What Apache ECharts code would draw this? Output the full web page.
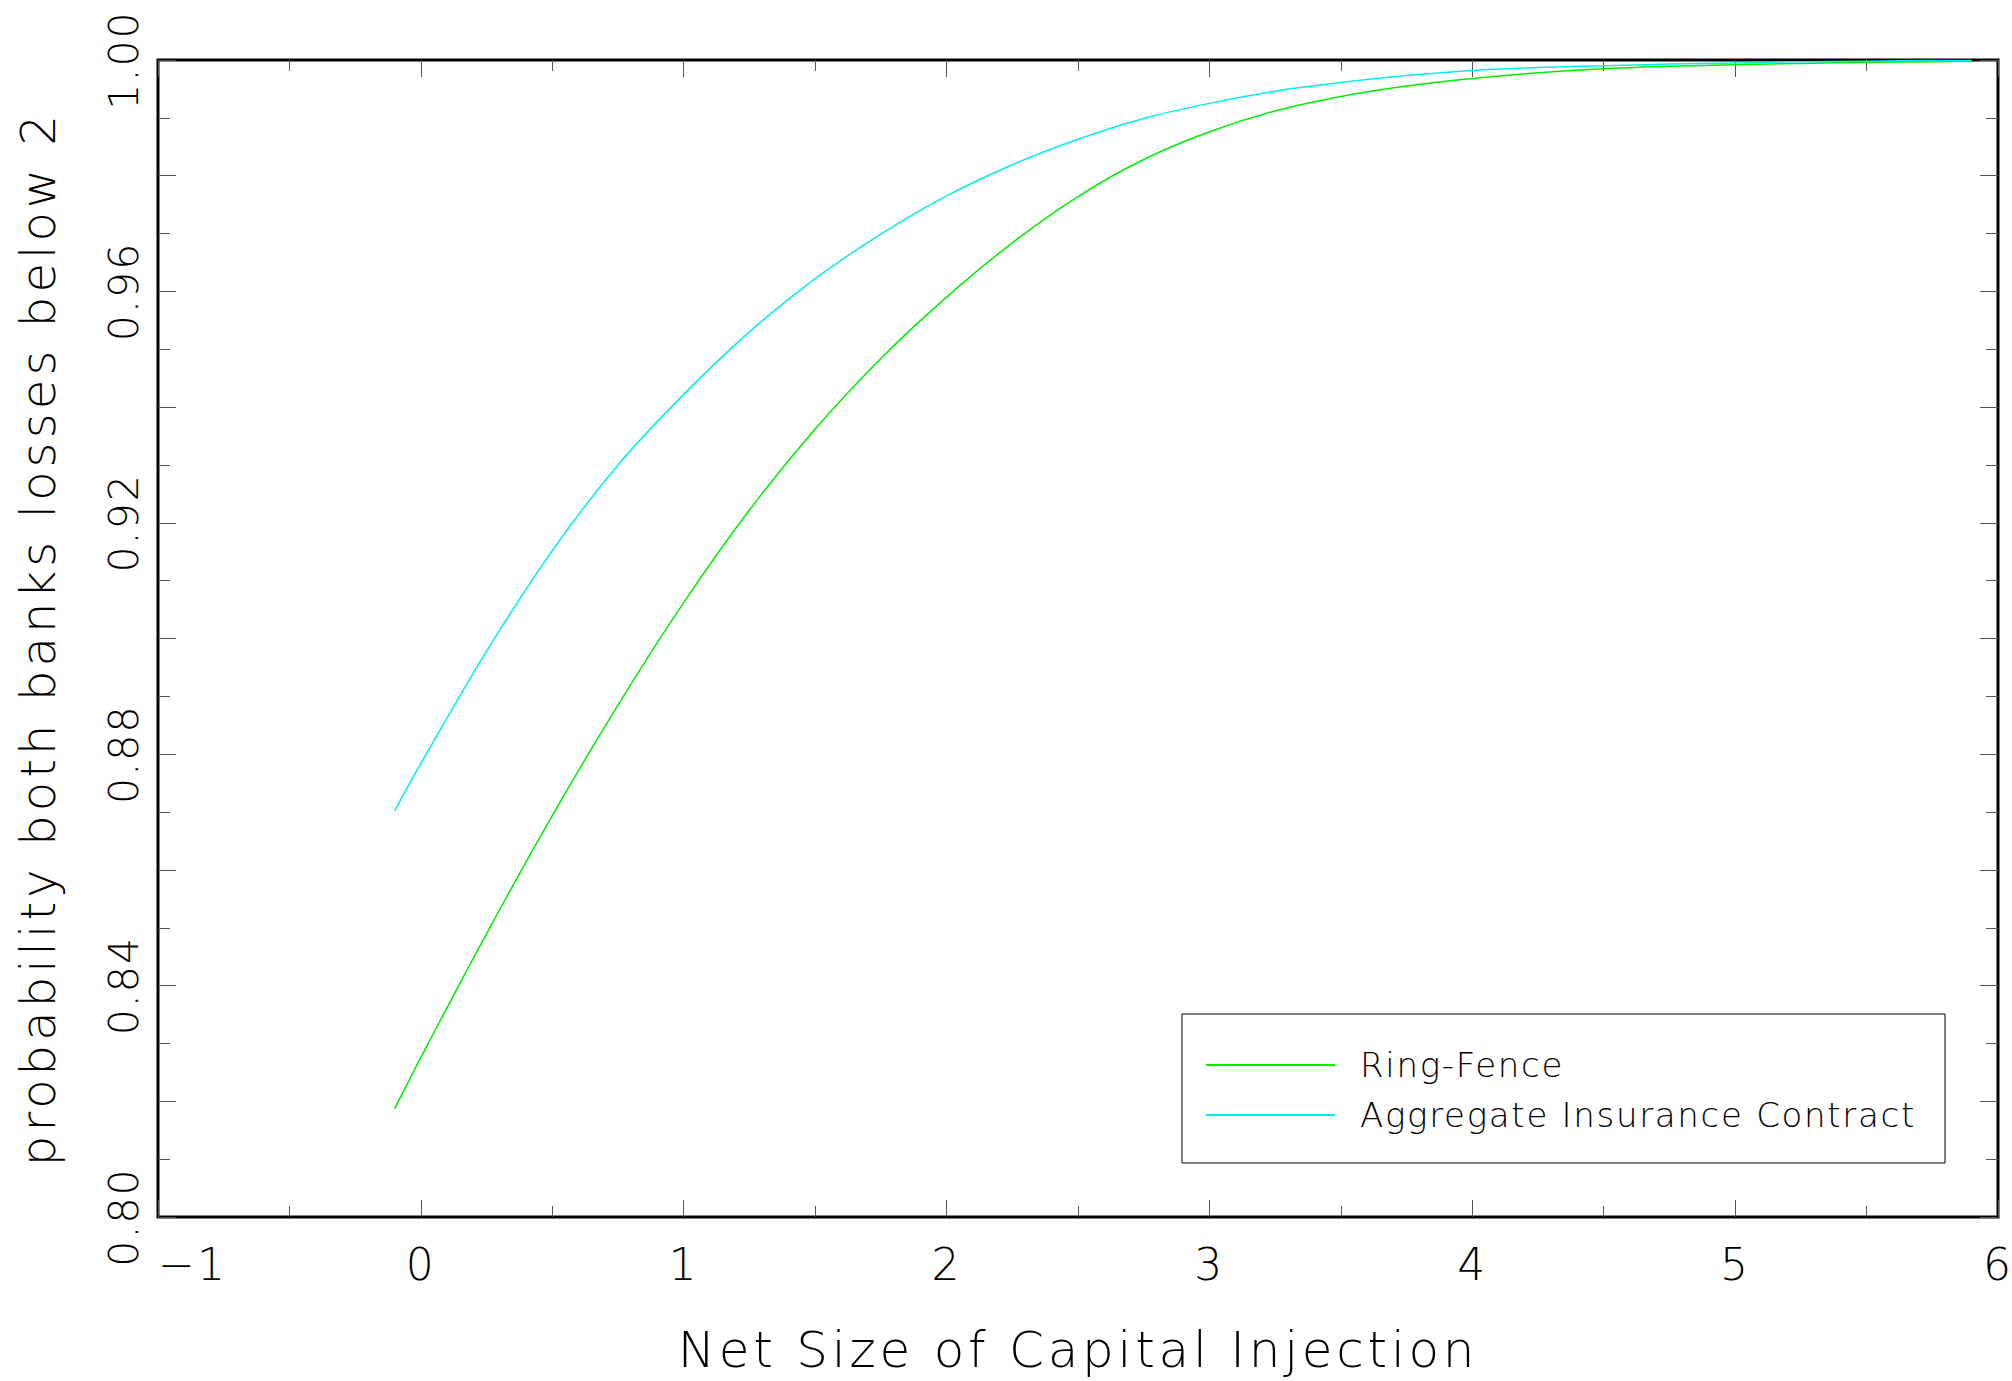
<!DOCTYPE html>
<html>
<head>
<meta charset="utf-8">
<title>Probability both banks losses below 2</title>
<script src="https://cdn.jsdelivr.net/npm/echarts@6/dist/echarts.min.js"></script>
<style>
  html, body { margin: 0; padding: 0; background: #fff; }
  #chart { width: 2012px; height: 1381px; }
  /* open letter spacing, like a plotter's stroke font */
  #chart svg text { letter-spacing: 0.05em; }
  #chart svg text[style*="48px"] { letter-spacing: 0.085em; }
  #chart svg text[style*="50px"] { letter-spacing: 0.075em; }
</style>
</head>
<body>
<div id="chart"></div>
<script>
// Net size of the capital injection (x positions of the computed curve points)
const capital = [-0.1, 0, 0.25, 0.5, 0.75, 1, 1.25, 1.5, 1.75, 2, 2.25, 2.5, 2.75,
                 3, 3.25, 3.5, 3.75, 4, 4.25, 4.5, 4.75, 5, 5.25, 5.5, 5.75, 5.9];

// Probability that both banks' losses stay below 2
const ringFence = [0.8187, 0.8276, 0.8490, 0.8694, 0.8885, 0.9062, 0.9222, 0.9362, 0.9484,
                   0.9590, 0.9684, 0.9764, 0.9828, 0.9876, 0.9912, 0.9937, 0.9955, 0.9968,
                   0.9978, 0.9985, 0.9989, 0.9992, 0.9994, 0.9996, 0.9997, 0.9998];
const aggregateContract = [0.8702, 0.8784, 0.8978, 0.9152, 0.9300, 0.9422, 0.9530, 0.9622, 0.9699,
                           0.9765, 0.9819, 0.9863, 0.9899, 0.9925, 0.9946, 0.9961, 0.9973, 0.9982,
                           0.9987, 0.9990, 0.9993, 0.9995, 0.9997, 0.9998, 0.9999, 0.9999];

const seriesNames = ['Ring-Fence', 'Aggregate Insurance Contract'];
const xTitle = 'Net Size of Capital Injection';
const yTitle = 'probability both banks losses below 2';

const FONT = 'DejaVu Sans';
const TICK = { color: '#555', width: 1 };

function pairs(xs, ys) { return xs.map((x, i) => [x, ys[i]]); }
function fmtX(v) { return v < 0 ? '\u2212' + Math.abs(v) : String(v); }

// x axis helper: ticks drawn inward on the given side of the frame
function xAxisDef(position, interval, tickLen, withLabels) {
  return {
    type: 'value', gridIndex: 0, position: position,
    min: -1, max: 6, interval: interval,
    axisLine: { show: false, onZero: false },
    splitLine: { show: false },
    axisTick: { show: true, inside: true, length: tickLen, lineStyle: TICK },
    axisLabel: withLabels ? {
      show: true, margin: 25, color: '#000', fontFamily: FONT, fontWeight: 200, fontSize: 44,
      formatter: fmtX, showMinLabel: true, showMaxLabel: true, alignMinLabel: 'left'
    } : { show: false }
  };
}
function yAxisDef(position, interval, tickLen, withLabels, showTicks) {
  return {
    type: 'value', gridIndex: 0, position: position,
    min: 0.8, max: 1.0, interval: interval,
    axisLine: { show: false, onZero: false },
    splitLine: { show: false },
    axisTick: { show: showTicks, inside: true, length: tickLen, lineStyle: TICK },
    axisLabel: withLabels ? {
      show: true, margin: 14, rotate: 90, color: '#000', fontFamily: FONT, fontWeight: 200, fontSize: 41,
      formatter: v => v.toFixed(2), showMinLabel: true, showMaxLabel: true
    } : { show: false }
  };
}

const xAxes = [
  xAxisDef('bottom', 1, 17, true),
  xAxisDef('bottom', 0.5, 11, false),
  xAxisDef('top', 1, 17, false),
  xAxisDef('top', 0.5, 11, false)
];
Object.assign(xAxes[0], {
  name: xTitle, nameLocation: 'middle', nameGap: 108,
  nameTextStyle: { color: '#000', fontFamily: FONT, fontWeight: 200, fontSize: 50 }
});

const yAxes = [
  yAxisDef('left', 0.04, 0, true, false),
  yAxisDef('left', 0.02, 18, false, true),
  yAxisDef('left', 0.01, 12, false, true),
  yAxisDef('right', 0.02, 18, false, true),
  yAxisDef('right', 0.01, 12, false, true)
];
Object.assign(yAxes[0], {
  name: yTitle, nameLocation: 'middle', nameGap: 96, nameRotate: 90,
  nameTextStyle: { color: '#000', fontFamily: FONT, fontWeight: 200, fontSize: 48 }
});

const chart = echarts.init(document.getElementById('chart'), null, { renderer: 'svg' });
chart.setOption({
  backgroundColor: '#fff',
  animation: false,
  grid: {
    left: 158, top: 60, width: 1840, height: 1157,
    outerBoundsMode: 'none', containLabel: false,
    show: true, borderColor: '#000', borderWidth: 3, backgroundColor: 'transparent'
  },
  xAxis: xAxes,
  yAxis: yAxes,
  legend: {
    orient: 'vertical', left: 1182, top: 1014,
    padding: [34, 26, 31, 24],
    itemGap: 16, itemWidth: 129, itemHeight: 2,
    icon: 'rect',
    borderColor: '#000', borderWidth: 1, backgroundColor: '#fff',
    selectedMode: false,
    textStyle: { color: '#000', fontFamily: FONT, fontWeight: 200, fontSize: 34,
                 lineHeight: 34, padding: [0, 0, 0, 20], width: 559 },
    data: seriesNames
  },
  series: [
    {
      name: seriesNames[0], type: 'line', xAxisIndex: 0, yAxisIndex: 0,
      data: pairs(capital, ringFence), smooth: 0.3, symbol: 'none',
      lineStyle: { color: '#00ee00', width: 1.5 }, itemStyle: { color: '#00ee00' }
    },
    {
      name: seriesNames[1], type: 'line', xAxisIndex: 0, yAxisIndex: 0,
      data: pairs(capital, aggregateContract), smooth: 0.3, symbol: 'none',
      lineStyle: { color: '#00eeee', width: 1.5 }, itemStyle: { color: '#00eeee' }
    }
  ]
});
</script>
</body>
</html>
